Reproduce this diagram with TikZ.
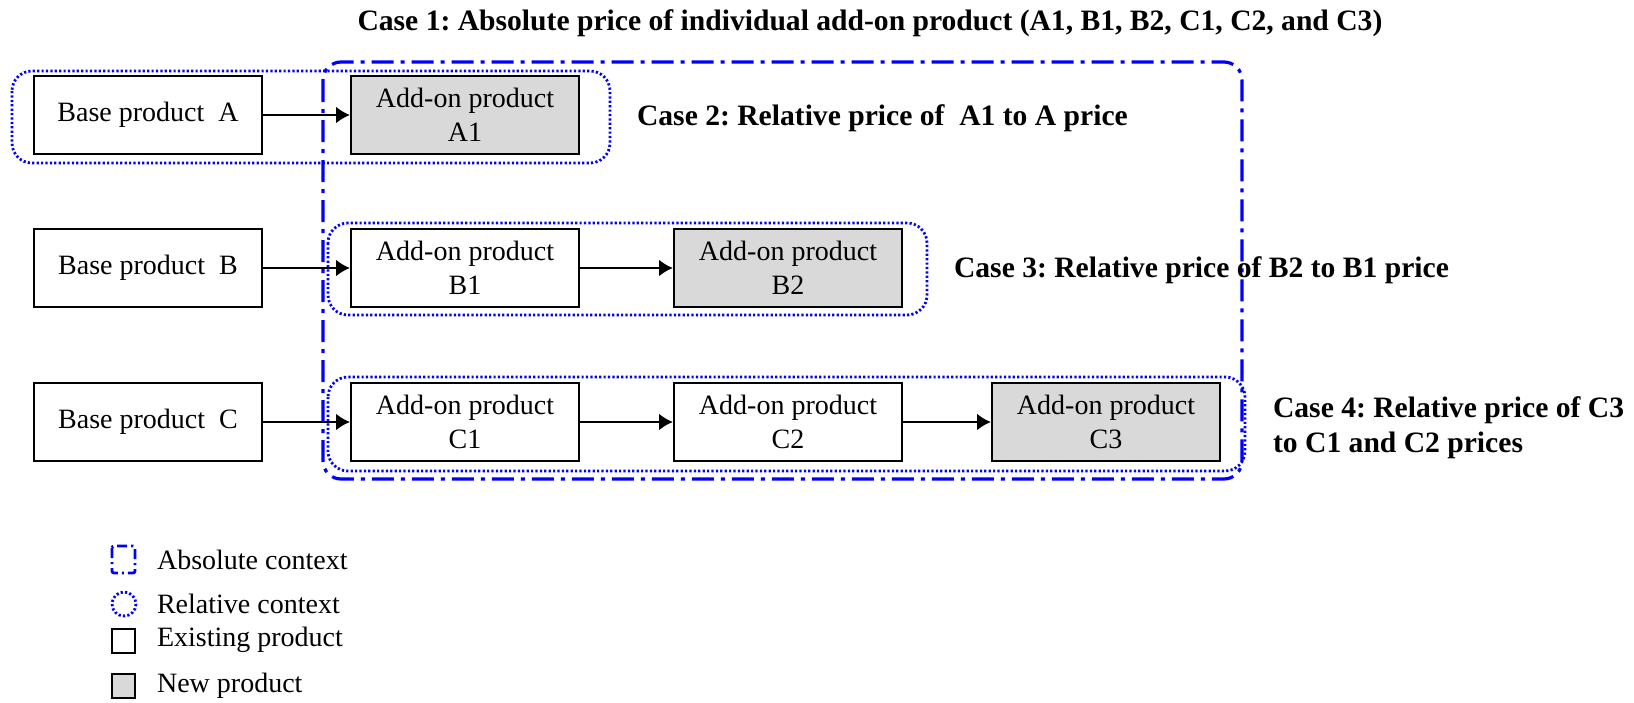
\documentclass[tikz,border=0pt]{standalone}
\usepackage{fontspec}
\setmainfont{Liberation Serif}
\usetikzlibrary{arrows.meta}

\definecolor{newgray}{RGB}{217,217,217}
\frenchspacing

\begin{document}
\begin{tikzpicture}[x=0.5pt, y=-0.5pt,
	font=\fontsize{14}{17}\selectfont,
	product/.style={draw, line width=1pt, rectangle, minimum width=114pt, minimum height=39pt, inner sep=0, align=center},
	newproduct/.style={product, fill=newgray},
	link/.style={line width=1.2pt, -{Latex[length=7pt, width=8.5pt]}},
	absolute/.style={blue, line width=1.6pt, dash pattern=on 11pt off 3.5pt on 2pt off 3.5pt, rounded corners=9pt},
	relative/.style={blue, line width=1.4pt, dash pattern=on 1.1pt off 1.1pt, rounded corners=10pt},
	casetext/.style={font=\fontsize{14.8}{17.5}\selectfont\bfseries, anchor=west, align=left},
	legendtext/.style={anchor=west}]
	\useasboundingbox (0,0) rectangle (1634,702);
	
	% Base products
	\foreach \name/\y in {A/115, B/268, C/422}{
		\node[product] (base\name) at (148, \y) {Base product \ \name};
	}
	
	% Add-on products
	\node[newproduct] (addA1) at (465, 115) {Add-on product\\A1};
	\node[product]    (addB1) at (465, 268) {Add-on product\\B1};
	\node[newproduct] (addB2) at (788, 268) {Add-on product\\B2};
	\node[product]    (addC1) at (465, 422) {Add-on product\\C1};
	\node[product]    (addC2) at (788, 422) {Add-on product\\C2};
	\node[newproduct] (addC3) at (1106, 422) {Add-on product\\C3};
	
	\foreach \from/\to in {baseA/addA1, baseB/addB1, addB1/addB2, baseC/addC1, addC1/addC2, addC2/addC3}{
		\draw[link] (\from) -- (\to);
	}
	
	% Contexts
	\draw[absolute] (323, 62) rectangle (1242, 479);
	\draw[relative] (12, 71) rectangle (610, 163);
	\draw[relative] (328, 223) rectangle (927, 315);
	\draw[relative] (328, 377) rectangle (1245, 471);
	
	% Cases
	\node[casetext, anchor=center] (case1) at (870, 23)
	     {Case 1: Absolute price of individual add-on product (A1, B1, B2, C1, C2, and C3)};
	\node[casetext] (case2) at (630, 118) {Case 2: Relative price of \ A1 to A price};
	\node[casetext] (case3) at (947, 270) {Case 3: Relative price of B2 to B1 price};
	\node[casetext] (case4) at (1266, 428) {Case 4: Relative price of C3\\to C1 and C2 prices};
	
	% Legend
	\draw[absolute, line width=1.4pt, dash pattern=on 5pt off 2pt on 1pt off 2pt, rounded corners=1pt]
	      (112, 546) rectangle (135, 573);
	\draw[relative] (124, 604) circle (12);
	\node[product, minimum width=11.5pt, minimum height=12pt] (legexist) at (123.5, 641) {};
	\node[newproduct, minimum width=11.5pt, minimum height=12pt] (legnew) at (123.5, 686) {};
	\node[legendtext] (txtabs) at (150, 560) {Absolute context};
	\node[legendtext] (txtrel) at (150, 604) {Relative context};
	\node[legendtext] (txtexist) at (150, 640) {Existing product};
	\node[legendtext] (txtnew) at (150, 686) {New product};
\end{tikzpicture}
\end{document}
